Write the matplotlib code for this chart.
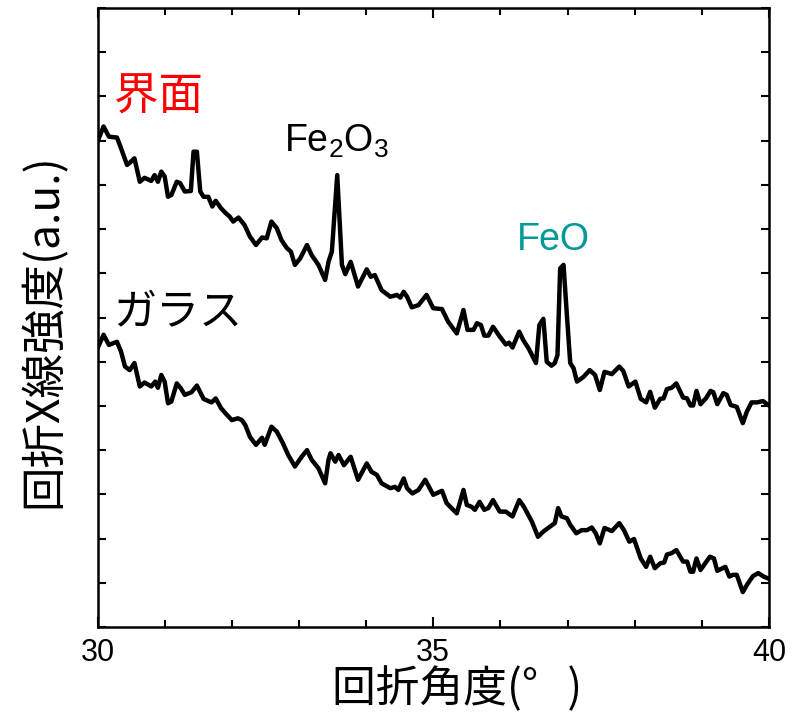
import matplotlib
matplotlib.use("Agg")
import matplotlib.pyplot as plt
from matplotlib.ticker import MultipleLocator

# ---- data ----
interface_x = [30.00, 30.09, 30.17, 30.29, 30.35, 30.44, 30.48, 30.55, 30.63, 30.70,
               30.80, 30.85, 30.90, 30.95, 31.00, 31.05, 31.10, 31.18, 31.23, 31.30,
               31.39, 31.43, 31.48, 31.53, 31.58, 31.65, 31.71, 31.76, 31.84, 31.91,
               31.97, 32.02, 32.10, 32.19, 32.27, 32.36, 32.45, 32.52, 32.59, 32.67,
               32.74, 32.82, 32.88, 32.94, 33.02, 33.12, 33.19, 33.29, 33.39, 33.44,
               33.49, 33.57, 33.64, 33.69, 33.77, 33.88, 34.01, 34.07, 34.13, 34.23,
               34.36, 34.46, 34.51, 34.56, 34.61, 34.68, 34.78, 34.90, 35.00, 35.13,
               35.22, 35.35, 35.45, 35.51, 35.60, 35.65, 35.71, 35.76, 35.82, 35.89,
               35.99, 36.08, 36.13, 36.18, 36.28, 36.34, 36.42, 36.53, 36.58, 36.64,
               36.69, 36.76, 36.81, 36.85, 36.89, 36.94, 36.99, 37.04, 37.09, 37.14,
               37.24, 37.33, 37.41, 37.48, 37.55, 37.66, 37.77, 37.83, 37.91, 38.01,
               38.09, 38.17, 38.23, 38.30, 38.38, 38.43, 38.48, 38.55, 38.62, 38.72,
               38.78, 38.83, 38.87, 38.92, 38.98, 39.06, 39.13, 39.17, 39.23, 39.32,
               39.37, 39.43, 39.52, 39.61, 39.67, 39.74, 39.82, 39.91, 40.00]
interface_y = [10.98, 11.32, 11.09, 11.07, 10.83, 10.45, 10.50, 10.60, 10.07, 10.16,
               10.09, 10.22, 10.07, 10.30, 10.19, 9.73, 9.77, 10.07, 10.04, 9.85,
               9.86, 10.75, 10.75, 9.85, 9.73, 9.73, 9.51, 9.64, 9.47, 9.36,
               9.28, 9.17, 9.26, 9.09, 8.83, 8.64, 8.81, 8.79, 9.17, 9.02,
               8.75, 8.57, 8.49, 8.19, 8.34, 8.64, 8.41, 8.19, 7.85, 8.26,
               8.49, 10.22, 8.19, 7.98, 8.26, 7.70, 8.09, 7.92, 7.96, 7.62,
               7.47, 7.51, 7.45, 7.58, 7.47, 7.23, 7.28, 7.51, 7.21, 7.19,
               6.91, 6.64, 7.17, 6.72, 6.72, 6.87, 6.83, 6.59, 6.59, 6.79,
               6.57, 6.39, 6.43, 6.32, 6.68, 6.49, 6.30, 5.97, 6.83, 6.97,
               6.00, 5.91, 5.97, 6.15, 8.11, 8.19, 7.06, 5.97, 5.85, 5.55,
               5.66, 5.81, 5.70, 5.36, 5.77, 5.72, 5.89, 5.79, 5.44, 5.55,
               5.16, 5.08, 5.32, 4.96, 5.16, 5.17, 5.38, 5.41, 5.51, 5.19,
               5.17, 5.01, 5.01, 5.34, 5.04, 5.17, 5.34, 5.31, 5.04, 5.29,
               5.25, 5.02, 4.98, 4.61, 4.87, 5.08, 5.08, 5.11, 5.01]

glass_x = [30.00, 30.09, 30.17, 30.29, 30.35, 30.41, 30.48, 30.55, 30.63, 30.70,
           30.80, 30.86, 30.90, 30.95, 31.00, 31.05, 31.10, 31.18, 31.24, 31.30,
           31.40, 31.48, 31.58, 31.65, 31.70, 31.76, 31.84, 31.92, 32.00, 32.09,
           32.15, 32.20, 32.27, 32.36, 32.45, 32.49, 32.59, 32.67, 32.76, 32.84,
           32.94, 33.04, 33.12, 33.19, 33.29, 33.39, 33.44, 33.47, 33.54, 33.59,
           33.67, 33.77, 33.88, 34.01, 34.08, 34.16, 34.23, 34.36, 34.43, 34.48,
           34.56, 34.61, 34.69, 34.78, 34.88, 35.00, 35.13, 35.20, 35.35, 35.45,
           35.50, 35.57, 35.62, 35.69, 35.76, 35.82, 35.89, 35.99, 36.08, 36.18,
           36.28, 36.35, 36.47, 36.56, 36.64, 36.74, 36.81, 36.86, 36.91, 36.99,
           37.04, 37.13, 37.21, 37.29, 37.36, 37.42, 37.48, 37.55, 37.66, 37.77,
           37.84, 37.92, 37.99, 38.09, 38.17, 38.23, 38.30, 38.38, 38.44, 38.48,
           38.55, 38.62, 38.72, 38.78, 38.83, 38.87, 38.92, 38.98, 39.12, 39.18,
           39.23, 39.35, 39.41, 39.46, 39.52, 39.61, 39.67, 39.76, 39.84, 39.92,
           40.00]
glass_y = [6.30, 6.61, 6.38, 6.45, 6.23, 5.89, 5.81, 5.97, 5.44, 5.53,
           5.44, 5.55, 5.41, 5.70, 5.55, 5.06, 5.10, 5.51, 5.40, 5.25,
           5.31, 5.46, 5.16, 5.11, 5.08, 5.17, 4.95, 4.81, 4.68, 4.72,
           4.68, 4.57, 4.30, 4.12, 4.28, 4.12, 4.53, 4.42, 4.16, 3.89,
           3.63, 3.85, 4.00, 3.78, 3.59, 3.25, 3.78, 3.93, 3.74, 3.89,
           3.66, 3.85, 3.33, 3.70, 3.51, 3.44, 3.25, 3.14, 3.17, 3.10,
           3.36, 3.14, 3.02, 3.10, 3.33, 2.99, 3.08, 2.80, 2.57, 3.10,
           2.76, 2.72, 2.65, 2.83, 2.65, 2.69, 2.87, 2.61, 2.61, 2.50,
           2.87, 2.72, 2.38, 2.04, 2.16, 2.27, 2.35, 2.69, 2.50, 2.46,
           2.31, 2.12, 2.19, 2.19, 2.25, 2.12, 1.89, 2.24, 2.17, 2.35,
           2.19, 1.93, 1.99, 1.55, 1.36, 1.59, 1.33, 1.44, 1.46, 1.64,
           1.67, 1.74, 1.48, 1.48, 1.25, 1.25, 1.55, 1.29, 1.59, 1.55,
           1.27, 1.36, 1.14, 1.18, 1.18, 0.79, 0.95, 1.15, 1.22, 1.14,
           1.09]

x_ticks = [30, 35, 40]
x_tick_labels = ["30", "35", "40"]
label_interface = "界面"
label_glass = "ガラス"
label_fe2o3 = "Fe$_2$O$_3$"
label_feo = "FeO"
xlabel = "回折角度(°   )"
ylabel = "回折X線強度(a.u.)"

plt.rcParams['font.family'] = ['Noto Sans CJK JP', 'DejaVu Sans']
plt.rcParams['mathtext.fontset'] = 'custom'
plt.rcParams['mathtext.rm'] = 'Liberation Sans'
plt.rcParams['mathtext.it'] = 'Liberation Sans'

fig = plt.figure(figsize=(7.98, 7.13), dpi=100)
ax = fig.add_axes([97.5 / 798, 1 - 627 / 713, (769 - 97.5) / 798, (627 - 8) / 713])

ax.plot(interface_x, interface_y, color='black', lw=3.2, solid_joinstyle='round')
ax.plot(glass_x, glass_y, color='black', lw=3.2, solid_joinstyle='round')

ax.set_xlim(30, 40)
ax.set_ylim(0, 14)
ax.set_xticks(x_ticks)
ax.set_xticklabels(x_tick_labels, family=['Liberation Sans'], fontsize=22)
ax.xaxis.set_minor_locator(MultipleLocator(1))
ax.yaxis.set_major_locator(MultipleLocator(1))
ax.set_yticklabels([])
ax.tick_params(axis='both', which='both', direction='in', top=True, right=True,
               width=1.5, color='black')
ax.tick_params(axis='x', which='major', length=7, pad=8)
ax.tick_params(axis='x', which='minor', length=5)
ax.tick_params(axis='y', which='major', length=6, labelleft=False)
for s in ax.spines.values():
    s.set_linewidth(1.8)

ax.text(30.25, 11.99, label_interface, color='#ff0000', fontsize=32, ha='left', va='center')
ax.text(30.24, 7.10, label_glass, color='black', fontsize=31, ha='left', va='center')
ax.text(33.56, 10.74, label_fe2o3, color='black', fontsize=27, ha='center', va='baseline',
        family=['Liberation Sans'])
ax.text(36.79, 8.53, label_feo, color='#009999', fontsize=27, ha='center', va='baseline',
        family=['Liberation Sans'])

fig.text(457 / 798, 1 - 689 / 713, xlabel, fontsize=31.5, ha='center', va='center')
fig.text(43 / 798, 1 - 331 / 713, ylabel, fontsize=32, ha='center', va='center', rotation=90)

fig.savefig('out.png', dpi=100)
